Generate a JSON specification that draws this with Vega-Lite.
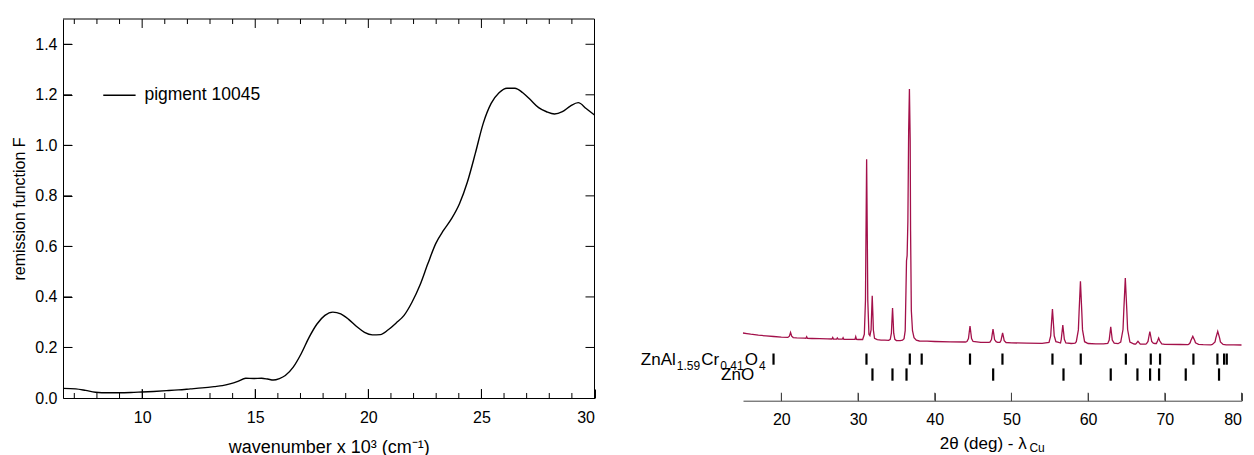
{
  "$schema": "https://vega.github.io/schema/vega-lite/v6.json",
  "padding": {"left": 11, "top": 18, "right": 0, "bottom": 0},
  "spacing": 42,
  "datasets": {
    "spectrum": [
      {"wn": 6.5, "F": 0.038}, {"wn": 7.06, "F": 0.036}, {"wn": 7.5, "F": 0.03}, {"wn": 7.93, "F": 0.023},
      {"wn": 8.5, "F": 0.021}, {"wn": 8.98, "F": 0.021}, {"wn": 9.5, "F": 0.022}, {"wn": 10.0, "F": 0.024},
      {"wn": 10.5, "F": 0.026}, {"wn": 11.08, "F": 0.029}, {"wn": 11.6, "F": 0.032}, {"wn": 12.13, "F": 0.036},
      {"wn": 12.65, "F": 0.04}, {"wn": 13.18, "F": 0.045}, {"wn": 13.55, "F": 0.049}, {"wn": 13.88, "F": 0.056},
      {"wn": 14.23, "F": 0.066}, {"wn": 14.58, "F": 0.078}, {"wn": 14.93, "F": 0.077}, {"wn": 15.28, "F": 0.078},
      {"wn": 15.55, "F": 0.075}, {"wn": 15.8, "F": 0.071}, {"wn": 16.07, "F": 0.077}, {"wn": 16.33, "F": 0.089},
      {"wn": 16.68, "F": 0.122}, {"wn": 17.03, "F": 0.175}, {"wn": 17.38, "F": 0.24}, {"wn": 17.73, "F": 0.293},
      {"wn": 18.08, "F": 0.327}, {"wn": 18.43, "F": 0.34}, {"wn": 18.78, "F": 0.333}, {"wn": 19.13, "F": 0.311},
      {"wn": 19.48, "F": 0.283}, {"wn": 19.83, "F": 0.26}, {"wn": 20.18, "F": 0.25}, {"wn": 20.53, "F": 0.251},
      {"wn": 20.88, "F": 0.27}, {"wn": 21.23, "F": 0.297}, {"wn": 21.58, "F": 0.327}, {"wn": 21.93, "F": 0.379},
      {"wn": 22.28, "F": 0.446}, {"wn": 22.63, "F": 0.531}, {"wn": 22.98, "F": 0.611}, {"wn": 23.33, "F": 0.664},
      {"wn": 23.68, "F": 0.71}, {"wn": 24.03, "F": 0.769}, {"wn": 24.38, "F": 0.855}, {"wn": 24.73, "F": 0.968},
      {"wn": 25.08, "F": 1.087}, {"wn": 25.43, "F": 1.166}, {"wn": 25.78, "F": 1.208}, {"wn": 26.13, "F": 1.226},
      {"wn": 26.48, "F": 1.226}, {"wn": 26.83, "F": 1.208}, {"wn": 27.18, "F": 1.179}, {"wn": 27.53, "F": 1.149},
      {"wn": 27.88, "F": 1.133}, {"wn": 28.23, "F": 1.124}, {"wn": 28.58, "F": 1.133}, {"wn": 28.93, "F": 1.155},
      {"wn": 29.28, "F": 1.169}, {"wn": 29.63, "F": 1.146}, {"wn": 30.0, "F": 1.12}
    ],
    "xticks": [
      {"v": 7, "kind": "minor"}, {"v": 8, "kind": "minor"}, {"v": 9, "kind": "minor"}, {"v": 10, "kind": "major"},
      {"v": 11, "kind": "minor"}, {"v": 12, "kind": "minor"}, {"v": 13, "kind": "minor"}, {"v": 14, "kind": "minor"},
      {"v": 15, "kind": "major"}, {"v": 16, "kind": "minor"}, {"v": 17, "kind": "minor"}, {"v": 18, "kind": "minor"},
      {"v": 19, "kind": "minor"}, {"v": 20, "kind": "major"}, {"v": 21, "kind": "minor"}, {"v": 22, "kind": "minor"},
      {"v": 23, "kind": "minor"}, {"v": 24, "kind": "minor"}, {"v": 25, "kind": "major"}, {"v": 26, "kind": "minor"},
      {"v": 27, "kind": "minor"}, {"v": 28, "kind": "minor"}, {"v": 29, "kind": "minor"}
    ],
    "yticks": [{"v": 0.2}, {"v": 0.4}, {"v": 0.6}, {"v": 0.8}, {"v": 1.0}, {"v": 1.2}, {"v": 1.4}],
    "ttticks": [{"v": 20}, {"v": 30}, {"v": 40}, {"v": 50}, {"v": 60}, {"v": 70}, {"v": 80}],
    "xrd": [
      {"tt": 15.0, "I": 677}, {"tt": 15.5, "I": 671}, {"tt": 16.0, "I": 665}, {"tt": 16.5, "I": 660},
      {"tt": 17.0, "I": 655}, {"tt": 18.0, "I": 648}, {"tt": 19.0, "I": 642}, {"tt": 20.0, "I": 636},
      {"tt": 20.85, "I": 633}, {"tt": 21.05, "I": 645}, {"tt": 21.2, "I": 682}, {"tt": 21.35, "I": 645},
      {"tt": 21.55, "I": 631}, {"tt": 22.0, "I": 628}, {"tt": 23.0, "I": 625}, {"tt": 23.2, "I": 624},
      {"tt": 23.3, "I": 640}, {"tt": 23.4, "I": 624}, {"tt": 24.0, "I": 622}, {"tt": 25.0, "I": 620},
      {"tt": 26.0, "I": 618}, {"tt": 26.6, "I": 617}, {"tt": 26.7, "I": 632}, {"tt": 26.8, "I": 617},
      {"tt": 27.2, "I": 616}, {"tt": 27.3, "I": 628}, {"tt": 27.4, "I": 616}, {"tt": 27.95, "I": 615},
      {"tt": 28.05, "I": 630}, {"tt": 28.15, "I": 614}, {"tt": 29.0, "I": 613}, {"tt": 29.6, "I": 613},
      {"tt": 29.7, "I": 640}, {"tt": 29.8, "I": 613}, {"tt": 30.0, "I": 612}, {"tt": 30.6, "I": 612},
      {"tt": 30.82, "I": 664}, {"tt": 30.97, "I": 1007}, {"tt": 31.02, "I": 1513}, {"tt": 31.12, "I": 2415},
      {"tt": 31.22, "I": 1513}, {"tt": 31.27, "I": 1007}, {"tt": 31.42, "I": 664}, {"tt": 31.55, "I": 650},
      {"tt": 31.7, "I": 707}, {"tt": 31.75, "I": 830}, {"tt": 31.85, "I": 1050}, {"tt": 31.95, "I": 830},
      {"tt": 32.0, "I": 707}, {"tt": 32.15, "I": 623}, {"tt": 32.5, "I": 610}, {"tt": 33.0, "I": 606},
      {"tt": 33.5, "I": 605}, {"tt": 34.0, "I": 604}, {"tt": 34.2, "I": 614}, {"tt": 34.35, "I": 675},
      {"tt": 34.4, "I": 765}, {"tt": 34.5, "I": 927}, {"tt": 34.6, "I": 765}, {"tt": 34.65, "I": 675},
      {"tt": 34.8, "I": 614}, {"tt": 35.0, "I": 602}, {"tt": 35.5, "I": 601}, {"tt": 35.8, "I": 605},
      {"tt": 36.0, "I": 620}, {"tt": 36.15, "I": 700}, {"tt": 36.25, "I": 1100}, {"tt": 36.32, "I": 1400},
      {"tt": 36.4, "I": 1450}, {"tt": 36.5, "I": 1800}, {"tt": 36.6, "I": 2700}, {"tt": 36.7, "I": 3117},
      {"tt": 36.8, "I": 2600}, {"tt": 36.85, "I": 1700}, {"tt": 36.95, "I": 900}, {"tt": 37.1, "I": 700},
      {"tt": 37.3, "I": 630}, {"tt": 37.6, "I": 605}, {"tt": 38.0, "I": 597}, {"tt": 39.0, "I": 595},
      {"tt": 40.0, "I": 592}, {"tt": 42.0, "I": 589}, {"tt": 44.0, "I": 587}, {"tt": 44.2, "I": 592},
      {"tt": 44.4, "I": 622}, {"tt": 44.47, "I": 667}, {"tt": 44.6, "I": 747}, {"tt": 44.73, "I": 667},
      {"tt": 44.8, "I": 622}, {"tt": 45.0, "I": 592}, {"tt": 46.0, "I": 584}, {"tt": 47.0, "I": 583},
      {"tt": 47.2, "I": 586}, {"tt": 47.4, "I": 612}, {"tt": 47.47, "I": 650}, {"tt": 47.6, "I": 717},
      {"tt": 47.73, "I": 650}, {"tt": 47.8, "I": 612}, {"tt": 48.0, "I": 590}, {"tt": 48.2, "I": 584},
      {"tt": 48.5, "I": 583}, {"tt": 48.64, "I": 601}, {"tt": 48.71, "I": 628}, {"tt": 48.85, "I": 677},
      {"tt": 48.99, "I": 628}, {"tt": 49.06, "I": 601}, {"tt": 49.3, "I": 582}, {"tt": 50.0, "I": 578},
      {"tt": 52.0, "I": 576}, {"tt": 54.0, "I": 574}, {"tt": 54.9, "I": 584}, {"tt": 55.12, "I": 649},
      {"tt": 55.2, "I": 746}, {"tt": 55.35, "I": 917}, {"tt": 55.5, "I": 746}, {"tt": 55.58, "I": 649},
      {"tt": 55.8, "I": 590}, {"tt": 56.05, "I": 585}, {"tt": 56.4, "I": 577}, {"tt": 56.5, "I": 614},
      {"tt": 56.57, "I": 665}, {"tt": 56.7, "I": 757}, {"tt": 56.83, "I": 665}, {"tt": 56.9, "I": 614},
      {"tt": 57.1, "I": 578}, {"tt": 57.8, "I": 572}, {"tt": 58.3, "I": 575}, {"tt": 58.46, "I": 590},
      {"tt": 58.73, "I": 708}, {"tt": 58.82, "I": 882}, {"tt": 59.0, "I": 1193}, {"tt": 59.18, "I": 882},
      {"tt": 59.27, "I": 708}, {"tt": 59.54, "I": 590}, {"tt": 60.0, "I": 572}, {"tt": 61.0, "I": 569},
      {"tt": 62.0, "I": 568}, {"tt": 62.56, "I": 573}, {"tt": 62.75, "I": 606}, {"tt": 62.82, "I": 654},
      {"tt": 62.95, "I": 740}, {"tt": 63.08, "I": 654}, {"tt": 63.15, "I": 606}, {"tt": 63.4, "I": 575},
      {"tt": 63.9, "I": 570}, {"tt": 64.25, "I": 587}, {"tt": 64.55, "I": 712}, {"tt": 64.65, "I": 897},
      {"tt": 64.85, "I": 1227}, {"tt": 65.05, "I": 897}, {"tt": 65.15, "I": 712}, {"tt": 65.45, "I": 587},
      {"tt": 66.0, "I": 567}, {"tt": 66.2, "I": 566}, {"tt": 66.5, "I": 594}, {"tt": 66.8, "I": 566},
      {"tt": 67.5, "I": 566}, {"tt": 67.6, "I": 569}, {"tt": 67.81, "I": 593}, {"tt": 67.89, "I": 627},
      {"tt": 68.05, "I": 690}, {"tt": 68.21, "I": 627}, {"tt": 68.29, "I": 593}, {"tt": 68.5, "I": 575},
      {"tt": 68.7, "I": 572}, {"tt": 68.9, "I": 572}, {"tt": 69.05, "I": 597}, {"tt": 69.2, "I": 627},
      {"tt": 69.35, "I": 597}, {"tt": 69.6, "I": 568}, {"tt": 70.0, "I": 564}, {"tt": 72.0, "I": 562},
      {"tt": 73.0, "I": 561}, {"tt": 73.1, "I": 563}, {"tt": 73.3, "I": 579}, {"tt": 73.4, "I": 602},
      {"tt": 73.65, "I": 643}, {"tt": 73.9, "I": 602}, {"tt": 74.0, "I": 579}, {"tt": 74.4, "I": 563},
      {"tt": 75.0, "I": 560}, {"tt": 76.0, "I": 559}, {"tt": 76.2, "I": 563}, {"tt": 76.55, "I": 588},
      {"tt": 76.65, "I": 626}, {"tt": 76.9, "I": 693}, {"tt": 77.15, "I": 626}, {"tt": 77.25, "I": 588},
      {"tt": 77.6, "I": 562}, {"tt": 78.0, "I": 559}, {"tt": 79.0, "I": 558}, {"tt": 80.0, "I": 557}
    ],
    "reflections": [
      {"phase": "spinel", "tt": 18.98}, {"phase": "spinel", "tt": 31.1}, {"phase": "spinel", "tt": 36.75},
      {"phase": "spinel", "tt": 38.3}, {"phase": "spinel", "tt": 44.6}, {"phase": "spinel", "tt": 48.83},
      {"phase": "spinel", "tt": 55.35}, {"phase": "spinel", "tt": 59.04}, {"phase": "spinel", "tt": 64.92},
      {"phase": "spinel", "tt": 68.17}, {"phase": "spinel", "tt": 69.38}, {"phase": "spinel", "tt": 73.73},
      {"phase": "spinel", "tt": 76.86}, {"phase": "spinel", "tt": 77.73}, {"phase": "spinel", "tt": 78.08},
      {"phase": "ZnO", "tt": 31.88}, {"phase": "ZnO", "tt": 34.49}, {"phase": "ZnO", "tt": 36.32},
      {"phase": "ZnO", "tt": 47.62}, {"phase": "ZnO", "tt": 56.79}, {"phase": "ZnO", "tt": 62.95},
      {"phase": "ZnO", "tt": 66.43}, {"phase": "ZnO", "tt": 68.08}, {"phase": "ZnO", "tt": 69.25},
      {"phase": "ZnO", "tt": 72.73}, {"phase": "ZnO", "tt": 77.07}
    ]
  },
  "hconcat": [
    {
      "width": 531.5,
      "height": 379,
      "layer": [
        {
          "data": {"name": "spectrum"},
          "mark": {"type": "line", "color": "black", "strokeWidth": 1.4, "interpolate": "monotone"},
          "encoding": {
            "x": {
              "field": "wn", "type": "quantitative",
              "scale": {"domain": [6.5, 30], "nice": false, "zero": false},
              "axis": {"values": [10, 15, 20, 25, 30], "tickSize": -9, "labelPadding": 20,
                       "title": "wavenumber x 10³ (cm⁻¹)", "titleFontSize": 18, "titlePadding": 13}
            },
            "y": {
              "field": "F", "type": "quantitative",
              "scale": {"domain": [0, 1.5], "nice": false},
              "axis": {"values": [0, 0.2, 0.4, 0.6, 0.8, 1.0, 1.2, 1.4], "format": ".1f",
                       "tickSize": -9, "labelPadding": 15, "title": "remission function F",
                       "titleFontSize": 16, "titlePadding": 7}
            }
          }
        },
        {
          "data": {"name": "xticks"},
          "transform": [{"filter": "datum.kind === 'minor'"}],
          "mark": {"type": "rule", "color": "black"},
          "encoding": {
            "x": {"field": "v", "type": "quantitative"},
            "y": {"datum": 0, "type": "quantitative"},
            "y2": {"datum": 0.0198}
          }
        },
        {
          "data": {"name": "xticks"},
          "transform": [{"filter": "datum.kind === 'major'"}],
          "mark": {"type": "rule", "color": "black"},
          "encoding": {
            "x": {"field": "v", "type": "quantitative"},
            "y": {"datum": 0, "type": "quantitative"},
            "y2": {"datum": 0.0356}
          }
        },
        {
          "data": {"name": "xticks"},
          "transform": [{"filter": "datum.kind === 'minor'"}],
          "mark": {"type": "rule", "color": "black"},
          "encoding": {
            "x": {"field": "v", "type": "quantitative"},
            "y": {"datum": 1.5, "type": "quantitative"},
            "y2": {"datum": 1.4802}
          }
        },
        {
          "data": {"name": "xticks"},
          "transform": [{"filter": "datum.kind === 'major'"}],
          "mark": {"type": "rule", "color": "black"},
          "encoding": {
            "x": {"field": "v", "type": "quantitative"},
            "y": {"datum": 1.5, "type": "quantitative"},
            "y2": {"datum": 1.4644}
          }
        },
        {
          "data": {"name": "yticks"},
          "mark": {"type": "rule", "color": "black"},
          "encoding": {
            "y": {"field": "v", "type": "quantitative"},
            "x": {"datum": 30, "type": "quantitative"},
            "x2": {"datum": 29.602}
          }
        },
        {
          "data": {"name": "yticks"},
          "mark": {"type": "rule", "color": "black"},
          "encoding": {
            "y": {"field": "v", "type": "quantitative"},
            "x": {"datum": 6.5, "type": "quantitative"},
            "x2": {"datum": 6.898}
          }
        },
        {
          "data": {"values": [{}]},
          "mark": {"type": "rule", "color": "black"},
          "encoding": {
            "x": {"datum": 6.5, "type": "quantitative"},
            "x2": {"datum": 30},
            "y": {"datum": 1.5, "type": "quantitative"}
          }
        },
        {
          "data": {"values": [{}]},
          "mark": {"type": "rule", "color": "black"},
          "encoding": {
            "x": {"datum": 30, "type": "quantitative"},
            "y": {"datum": 0, "type": "quantitative"},
            "y2": {"datum": 1.5}
          }
        },
        {
          "data": {"values": [{}]},
          "mark": {"type": "rule", "color": "black", "strokeWidth": 1.4},
          "encoding": {
            "x": {"datum": 8.28, "type": "quantitative"},
            "x2": {"datum": 9.71},
            "y": {"datum": 1.198, "type": "quantitative"}
          }
        },
        {
          "data": {"values": [{}]},
          "mark": {"type": "text", "text": "pigment 10045", "align": "left", "baseline": "middle", "fontSize": 17.5},
          "encoding": {
            "x": {"datum": 10.1, "type": "quantitative"},
            "y": {"datum": 1.198, "type": "quantitative"}
          }
        }
      ]
    },
    {
      "width": 498.5,
      "height": 381.7,
      "layer": [
        {
          "data": {"name": "xrd"},
          "mark": {"type": "line", "color": "#a3104a", "strokeWidth": 1.3},
          "encoding": {
            "x": {
              "field": "tt", "type": "quantitative",
              "scale": {"domain": [15, 80], "nice": false, "zero": false},
              "axis": {"values": [20, 30, 40, 50, 60, 70, 80], "tickSize": -8, "labelPadding": 19,
                       "domainColor": "#444", "tickColor": "#444", "title": null}
            },
            "y": {
              "field": "I", "type": "quantitative",
              "scale": {"domain": [0, 3817], "nice": false},
              "axis": null
            }
          }
        },
        {
          "data": {"name": "ttticks"},
          "mark": {"type": "rule", "color": "#444"},
          "encoding": {
            "x": {"field": "v", "type": "quantitative"},
            "y": {"datum": 0, "type": "quantitative", "axis": null},
            "y2": {"datum": 80}
          }
        },
        {
          "data": {"name": "reflections"},
          "transform": [{"filter": "datum.phase === 'spinel'"}],
          "mark": {"type": "rule", "color": "black", "strokeWidth": 2.2},
          "encoding": {
            "x": {"field": "tt", "type": "quantitative"},
            "y": {"datum": 472, "type": "quantitative", "axis": null},
            "y2": {"datum": 360}
          }
        },
        {
          "data": {"name": "reflections"},
          "transform": [{"filter": "datum.phase === 'ZnO'"}],
          "mark": {"type": "rule", "color": "black", "strokeWidth": 2.2},
          "encoding": {
            "x": {"field": "tt", "type": "quantitative"},
            "y": {"datum": 323, "type": "quantitative", "axis": null},
            "y2": {"datum": 200}
          }
        },
        {
          "data": {"values": [{}]},
          "mark": {"type": "text", "text": "ZnAl", "align": "left", "baseline": "alphabetic", "fontSize": 17},
          "encoding": {"x": {"datum": 1.68, "type": "quantitative"}, "y": {"datum": 357, "type": "quantitative", "axis": null}}
        },
        {
          "data": {"values": [{}]},
          "mark": {"type": "text", "text": "1.59", "align": "left", "baseline": "alphabetic", "fontSize": 12},
          "encoding": {"x": {"datum": 6.37, "type": "quantitative"}, "y": {"datum": 310, "type": "quantitative", "axis": null}}
        },
        {
          "data": {"values": [{}]},
          "mark": {"type": "text", "text": "Cr", "align": "left", "baseline": "alphabetic", "fontSize": 17},
          "encoding": {"x": {"datum": 9.56, "type": "quantitative"}, "y": {"datum": 357, "type": "quantitative", "axis": null}}
        },
        {
          "data": {"values": [{}]},
          "mark": {"type": "text", "text": "0.41", "align": "left", "baseline": "alphabetic", "fontSize": 12},
          "encoding": {"x": {"datum": 12.04, "type": "quantitative"}, "y": {"datum": 310, "type": "quantitative", "axis": null}}
        },
        {
          "data": {"values": [{}]},
          "mark": {"type": "text", "text": "O", "align": "left", "baseline": "alphabetic", "fontSize": 17},
          "encoding": {"x": {"datum": 15.23, "type": "quantitative"}, "y": {"datum": 357, "type": "quantitative", "axis": null}}
        },
        {
          "data": {"values": [{}]},
          "mark": {"type": "text", "text": "4", "align": "left", "baseline": "alphabetic", "fontSize": 12},
          "encoding": {"x": {"datum": 17.09, "type": "quantitative"}, "y": {"datum": 310, "type": "quantitative", "axis": null}}
        },
        {
          "data": {"values": [{}]},
          "mark": {"type": "text", "text": "ZnO", "align": "left", "baseline": "alphabetic", "fontSize": 17},
          "encoding": {"x": {"datum": 12.14, "type": "quantitative"}, "y": {"datum": 212, "type": "quantitative", "axis": null}}
        },
        {
          "data": {"values": [{}]},
          "mark": {"type": "text", "text": "2θ (deg) - λ", "align": "left", "baseline": "alphabetic", "fontSize": 17},
          "encoding": {"x": {"datum": 40.66, "type": "quantitative"}, "y": {"datum": -483, "type": "quantitative", "axis": null}}
        },
        {
          "data": {"values": [{}]},
          "mark": {"type": "text", "text": "Cu", "align": "left", "baseline": "alphabetic", "fontSize": 12},
          "encoding": {"x": {"datum": 52.35, "type": "quantitative"}, "y": {"datum": -510, "type": "quantitative", "axis": null}}
        }
      ]
    }
  ],
  "config": {
    "font": "Liberation Sans",
    "view": {"stroke": null},
    "axis": {
      "grid": false,
      "labelFontSize": 16,
      "labelColor": "black",
      "titleFontSize": 17,
      "titleFontWeight": "normal",
      "titleColor": "black",
      "tickColor": "black",
      "domainColor": "black"
    },
    "text": {"color": "black", "font": "Liberation Sans"}
  }
}
